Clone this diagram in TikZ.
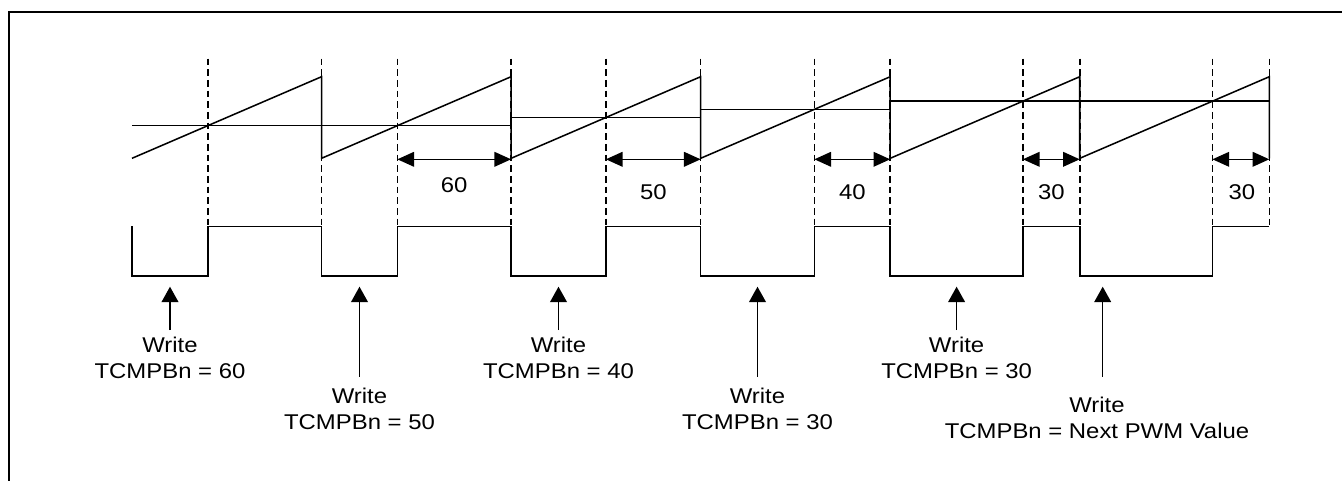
\documentclass[tikz,border=0pt]{standalone}
\usepackage{fontspec}
\setmainfont{Liberation Sans}[FakeStretch=1.12]
\usetikzlibrary{arrows.meta}
\begin{document}
\begin{tikzpicture}[x=0.75pt,y=-0.75pt,
  wave/.style={line width=1.15pt, line join=miter},
  guide/.style={line width=1.2pt, dash pattern=on 5pt off 3pt},
  span/.style={line width=1.15pt, {Triangle[length=12.5pt,width=11pt]}-{Triangle[length=12.5pt,width=11pt]}},
  wr/.style={line width=1.15pt, -{Triangle[length=11.5pt,width=12.5pt]}},
  lbl/.style={font=\fontsize{16}{19.6}\selectfont, inner sep=0pt},
  wlabel/.style={lbl, align=center},
  frame/.style={line width=1.3pt}]
\useasboundingbox (0,0) rectangle (1342,480);
% frame (only top and left edges visible)
\draw[frame] (9,490) -- (9,12) -- (1352,12);
% dashed guides
\foreach \x in {207.82,321.55,397.37,511.1,605.88,700.65,814.38,890.2,1022.89,1079.75,1212.44,1269.3}
  \draw[guide] (\x,58.5) -- (\x,226.7);
% sawtooth
\draw[wave] (132,158.3) -- (321.55,76.7) -- (321.55,158.3) -- (511.1,76.7) -- (511.1,158.3)
  -- (700.65,76.7) -- (700.65,158.3) -- (890.2,76.7) -- (890.2,158.3)
  -- (1079.75,76.7) -- (1079.75,158.3) -- (1269.3,76.7) -- (1269.3,158.3);
% compare level
\draw[wave] (132,125.66) -- (511.1,125.66) -- (511.1,117.5) -- (700.65,117.5) -- (700.65,109.34)
  -- (890.2,109.34) -- (890.2,101.18) -- (1269.3,101.18);
% PWM output
\draw[wave] (132,226.3) -- (132,276) -- (207.82,276) -- (207.82,226.7) -- (321.55,226.7)
  -- (321.55,276) -- (397.37,276) -- (397.37,226.7) -- (511.1,226.7)
  -- (511.1,276) -- (605.88,276) -- (605.88,226.7) -- (700.65,226.7)
  -- (700.65,276) -- (814.38,276) -- (814.38,226.7) -- (890.2,226.7)
  -- (890.2,276) -- (1022.89,276) -- (1022.89,226.7) -- (1079.75,226.7)
  -- (1079.75,276) -- (1212.44,276) -- (1212.44,226.7) -- (1269.3,226.7);
% spans
\coordinate (a1l) at (397.37,159.3); \coordinate (a1r) at (511.1,159.3);
\coordinate (a2l) at (605.88,159.3); \coordinate (a2r) at (700.65,159.3);
\coordinate (a3l) at (814.38,159.3); \coordinate (a3r) at (890.2,159.3);
\coordinate (a4l) at (1022.89,159.3); \coordinate (a4r) at (1079.75,159.3);
\coordinate (a5l) at (1212.44,159.3); \coordinate (a5r) at (1269.3,159.3);
\draw[span] (a1l) -- (a1r);
\draw[span] (a2l) -- (a2r);
\draw[span] (a3l) -- (a3r);
\draw[span] (a4l) -- (a4r);
\draw[span] (a5l) -- (a5r);
\node[lbl] (n60) at (454.2,185) {60};
\node[lbl] (n50) at (653.3,192.3) {50};
\node[lbl] (n40) at (852.3,192.3) {40};
\node[lbl] (n30a) at (1051.3,192.3) {30};
\node[lbl] (n30b) at (1241.9,192.3) {30};
% write labels
\node[wlabel] (w1) at (170,358) {Write\\TCMPBn = 60};
\node[wlabel] (w2) at (359.5,408.9) {Write\\TCMPBn = 50};
\node[wlabel] (w3) at (558.5,358) {Write\\TCMPBn = 40};
\node[wlabel] (w4) at (757.5,408.9) {Write\\TCMPBn = 30};
\node[wlabel] (w5) at (956.6,358) {Write\\TCMPBn = 30};
\node[wlabel] (w6) at (1097,417.5) {Write\\TCMPBn = Next PWM Value};
% write arrows
\coordinate (b1) at (170,330);    \coordinate (t1) at (170,286.7);
\coordinate (b2) at (359.5,376.7);  \coordinate (t2) at (359.5,286.7);
\coordinate (b3) at (558.5,330);  \coordinate (t3) at (558.5,286.7);
\coordinate (b4) at (757.5,376.7);  \coordinate (t4) at (757.5,286.7);
\coordinate (b5) at (956.6,330);  \coordinate (t5) at (956.6,286.7);
\coordinate (b6) at (1102.7,376.7); \coordinate (t6) at (1102.7,286.7);
\draw[wr] (b1) -- (t1);
\draw[wr] (b2) -- (t2);
\draw[wr] (b3) -- (t3);
\draw[wr] (b4) -- (t4);
\draw[wr] (b5) -- (t5);
\draw[wr] (b6) -- (t6);
\end{tikzpicture}
\end{document}
